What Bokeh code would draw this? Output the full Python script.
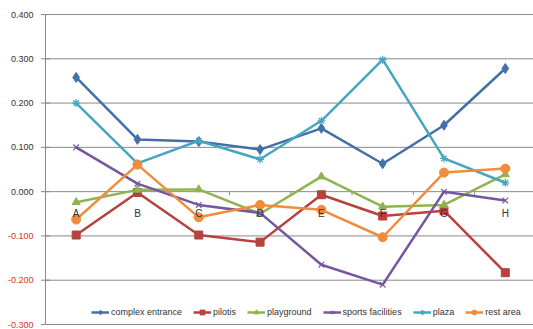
import numpy as np
from bokeh.plotting import figure
from bokeh.models import Range1d, Legend, LegendItem
from bokeh.core.properties import value
from bokeh.embed import file_html
from bokeh.resources import INLINE

categories = ["A", "B", "C", "D", "E", "F", "G", "H"]
complex_entrance = [0.258, 0.118, 0.113, 0.095, 0.143, 0.063, 0.150, 0.278]
pilotis = [-0.098, -0.002, -0.098, -0.114, -0.007, -0.055, -0.043, -0.183]
playground = [-0.024, 0.004, 0.005, -0.050, 0.034, -0.034, -0.030, 0.039]
sports_facilities = [0.100, 0.018, -0.030, -0.048, -0.165, -0.210, 0.000, -0.020]
plaza = [0.200, 0.064, 0.115, 0.073, 0.160, 0.298, 0.075, 0.020]
rest_area = [-0.063, 0.061, -0.058, -0.030, -0.041, -0.103, 0.043, 0.052]
y_ticks = [-0.3, -0.2, -0.1, 0.0, 0.1, 0.2, 0.3, 0.4]
y_tick_labels = ["-0.300", "-0.200", "-0.100", "0.000", "0.100", "0.200", "0.300", "0.400"]

series = [
    ("complex entrance", complex_entrance, "#4470A8", "diamond", 10),
    ("pilotis", pilotis, "#B8413E", "square", 8),
    ("playground", playground, "#8FB34F", "triangle", 8),
    ("sports facilities", sports_facilities, "#7656A0", "x", 8),
    ("plaza", plaza, "#46A6C0", "asterisk", 8),
    ("rest area", rest_area, "#F08C3C", "circle", 9),
]

FONT = "Liberation Sans"
GRID = "#8A8A8A"

xs = np.arange(1, len(categories) + 1)
x0 = 0.5                       # left edge of the category bands (value axis position)
x_end = 8.46                   # right edge of the plot area (beyond the window)
band_px = 61.3                 # pixels per category band
x_start = x0 - 45 / band_px    # room for the value-axis labels

y_px = 310 / (max(y_ticks) - min(y_ticks))   # pixels per unit on the value axis
y_top = max(y_ticks) + 14 / y_px
y_bot = min(y_ticks) - 5 / y_px

p = figure(width=533, height=329, output_backend="svg", toolbar_location=None,
           x_range=Range1d(x_start, x_end), y_range=Range1d(y_bot, y_top),
           min_border_left=0, min_border_right=0, min_border_top=0, min_border_bottom=0)
p.outline_line_color = None
p.background_fill_color = "white"
p.xaxis.visible = False
p.yaxis.visible = False
p.xgrid.visible = False
p.ygrid.visible = False

n = len(y_ticks)
# horizontal gridlines
p.segment(x0=[x0] * n, y0=y_ticks, x1=[x_end] * n, y1=y_ticks, line_color=GRID, line_width=1)
# value axis line
p.segment(x0=[x0], y0=[min(y_ticks)], x1=[x0], y1=[max(y_ticks)], line_color=GRID, line_width=1)
# value axis tick marks
p.scatter(x=[x0] * n, y=y_ticks, marker="dash", size=9, line_color=GRID, line_width=1)
# value tick labels
p.text(x=[x0] * n, y=y_ticks, text=y_tick_labels, x_offset=-12, text_align="right",
       text_baseline="middle", text_font=value(FONT), text_font_size="9px",
       text_color=["#E0302E" if t < 0 else "#333333" for t in y_ticks])

# category ticks on zero line
bounds = np.arange(0.5, len(categories) + 1, 1.0)
p.segment(x0=bounds, y0=[0] * len(bounds), x1=bounds, y1=[-0.008] * len(bounds),
          line_color=GRID, line_width=1)

items = []
for name, vals, color, marker, size in series:
    r1 = p.line(xs, vals, line_color=color, line_width=2.5)
    kw = dict(marker=marker, size=size, line_color=color, fill_color=color)
    if marker in ("x", "asterisk"):
        kw["line_width"] = 1.2
    r2 = p.scatter(xs, vals, **kw)
    items.append(LegendItem(label=name, renderers=[r1, r2]))

p.text(x=xs, y=[0] * len(xs), text=categories, text_align="center", text_baseline="middle",
       y_offset=22, text_font=value(FONT), text_font_size="10px", text_color="#333333")

legend = Legend(items=items, orientation="horizontal", location=(91, 11),
                label_text_font=FONT, label_text_font_size="9px", label_text_color="#333333",
                glyph_width=18, glyph_height=12, label_height=12, label_standoff=2,
                spacing=11, padding=0, margin=0, border_line_color=None,
                background_fill_alpha=0)
p.add_layout(legend)

open("out.html", "w").write(file_html(p, INLINE))
